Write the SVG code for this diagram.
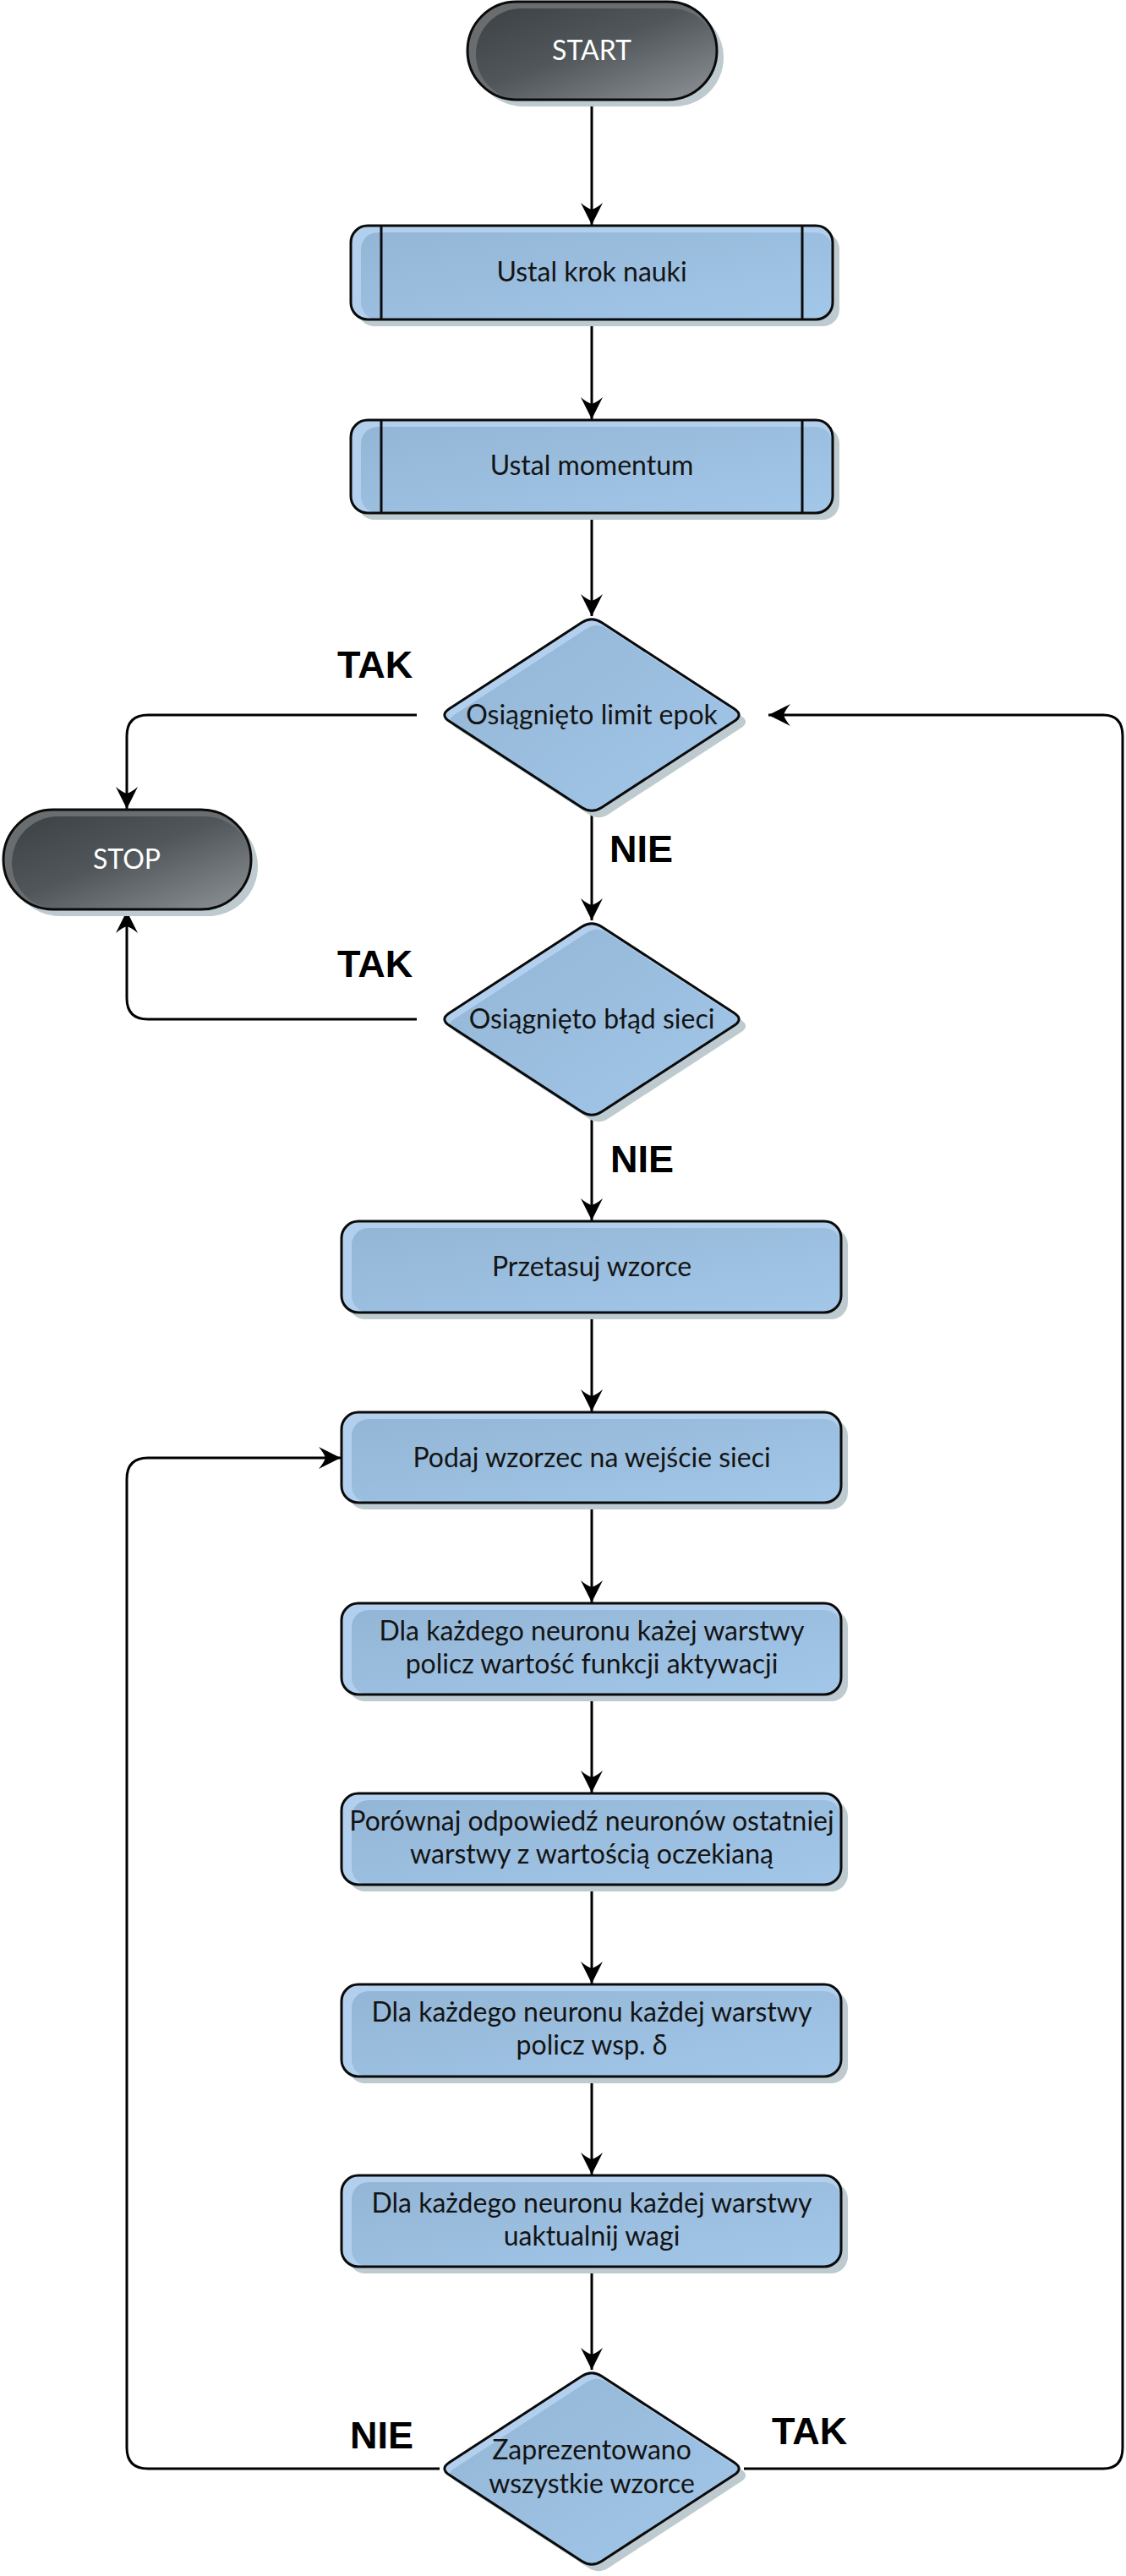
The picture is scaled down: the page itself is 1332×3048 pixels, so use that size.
<svg xmlns="http://www.w3.org/2000/svg" width="1332" height="3048" viewBox="0 0 1332 3048">
<style>
.shadow{fill:#bdcbd0}
.hl{fill:#b2d0ee}
.body{fill:url(#gBlue)}
.dhl{fill:#6a6d6f}
.dbody{fill:url(#gDark)}
.outline{fill:none;stroke:#0a0a0a;stroke-width:3}
.t{font-family:Lato,"Open Sans","Liberation Sans",sans-serif;font-size:32px;fill:#141414;text-anchor:middle}
.tw{font-family:Lato,"Open Sans","Liberation Sans",sans-serif;font-size:32px;fill:#ffffff;text-anchor:middle}
.lbl{font-family:"Liberation Sans",Arial,sans-serif;font-weight:bold;font-size:45px;fill:#000}
.conn{fill:none;stroke:#000;stroke-width:3;marker-end:url(#arr)}
</style>
<defs>
<linearGradient id="gBlue" x1="0" y1="0" x2="1" y2="1">
<stop offset="0" stop-color="#93b6d6"/>
<stop offset="1" stop-color="#a3c7e9"/>
</linearGradient>
<linearGradient id="gDark" x1="0" y1="0" x2="1" y2="1">
<stop offset="0" stop-color="#3c4144"/>
<stop offset="0.45" stop-color="#50565a"/>
<stop offset="1" stop-color="#8d9396"/>
</linearGradient>
<path id="dia" d="M -11.7 -109.4 Q 0 -117 11.7 -109.4 L 168.3 -7.6 Q 180 0 168.3 7.6 L 11.7 109.4 Q 0 117 -11.7 109.4 L -168.3 7.6 Q -180 0 -168.3 -7.6 Z"/>
<clipPath id="dclip"><use href="#dia"/></clipPath>
<marker id="arr" viewBox="-27 -14 28 28" refX="0" refY="0" markerWidth="28" markerHeight="28" markerUnits="userSpaceOnUse" orient="auto">
<path d="M 0 0 L -26 -13 Q -20 -6 -18 0 Q -20 6 -26 13 Z" fill="#000"/>
</marker>
</defs>
<rect width="1332" height="3048" fill="#ffffff"/>

<g id="connectors">
<path class="conn" d="M 700 118 V 266"/>
<path class="conn" d="M 700 378 V 496"/>
<path class="conn" d="M 700 607 V 729"/>
<path class="conn" d="M 493 846 H 175 Q 150 846 150 871 V 957"/>
<path class="conn" d="M 700 963 V 1089"/>
<path class="conn" d="M 493 1206 H 175 Q 150 1206 150 1181 V 1078"/>
<path class="conn" d="M 700 1323 V 1444"/>
<path class="conn" d="M 700 1553 V 1670"/>
<path class="conn" d="M 700 1778 V 1896"/>
<path class="conn" d="M 700 2005 V 2121"/>
<path class="conn" d="M 700 2230 V 2347"/>
<path class="conn" d="M 700 2457 V 2573"/>
<path class="conn" d="M 700 2682 V 2804"/>
<path class="conn" d="M 520 2921 H 175 Q 150 2921 150 2896 V 1750 Q 150 1725 175 1725 H 403"/>
<path class="conn" d="M 880 2921 H 1305 Q 1328 2921 1328 2896 V 871 Q 1328 846 1305 846 H 909"/>
</g>

<g id="n-start">
<rect class="shadow" x="561" y="10" width="295" height="116" rx="58"/>
<rect class="dhl" x="553" y="2" width="295" height="116" rx="58"/>
<rect class="dbody" x="563" y="10" width="285" height="108" rx="54"/>
<rect class="outline" x="553" y="2" width="295" height="116" rx="58"/>
<text class="tw" x="700" y="71">START</text>
</g>

<g id="n-krok">
<rect class="shadow" x="423" y="275" width="570" height="111" rx="20"/>
<rect class="hl" x="415" y="267" width="570" height="111" rx="20"/>
<rect class="body" x="427" y="275" width="558" height="103" rx="20"/>
<rect class="outline" x="415" y="267" width="570" height="111" rx="20"/>
<path class="outline" d="M 451 267 V 378 M 949 267 V 378"/>
<text class="t" x="700" y="333">Ustal krok nauki</text>
</g>

<g id="n-momentum">
<rect class="shadow" x="423" y="505" width="570" height="110" rx="20"/>
<rect class="hl" x="415" y="497" width="570" height="110" rx="20"/>
<rect class="body" x="427" y="505" width="558" height="102" rx="20"/>
<rect class="outline" x="415" y="497" width="570" height="110" rx="20"/>
<path class="outline" d="M 451 497 V 607 M 949 497 V 607"/>
<text class="t" x="700" y="562">Ustal momentum</text>
</g>

<g id="n-limit" transform="translate(700,846)">
<use href="#dia" class="shadow" transform="translate(8,8)"/>
<use href="#dia" class="hl"/>
<g clip-path="url(#dclip)"><use href="#dia" class="body" transform="translate(6,7)"/></g>
<use href="#dia" class="outline"/>
<text class="t" x="0" y="11">Osiągnięto limit epok</text>
</g>

<g id="n-stop">
<rect class="shadow" x="12" y="966" width="293" height="118" rx="59"/>
<rect class="dhl" x="4" y="958" width="293" height="118" rx="59"/>
<rect class="dbody" x="14" y="966" width="283" height="110" rx="55"/>
<rect class="outline" x="4" y="958" width="293" height="118" rx="59"/>
<text class="tw" x="150" y="1028">STOP</text>
</g>

<g id="n-blad" transform="translate(700,1206)">
<use href="#dia" class="shadow" transform="translate(8,8)"/>
<use href="#dia" class="hl"/>
<g clip-path="url(#dclip)"><use href="#dia" class="body" transform="translate(6,7)"/></g>
<use href="#dia" class="outline"/>
<text class="t" x="0" y="11">Osiągnięto błąd sieci</text>
</g>

<g id="n-przetasuj">
<rect class="shadow" x="412" y="1453" width="591" height="108" rx="20"/>
<rect class="hl" x="404" y="1445" width="591" height="108" rx="20"/>
<rect class="body" x="416" y="1453" width="579" height="100" rx="20"/>
<rect class="outline" x="404" y="1445" width="591" height="108" rx="20"/>
<text class="t" x="700" y="1510">Przetasuj wzorce</text>
</g>

<g id="n-podaj">
<rect class="shadow" x="412" y="1679" width="591" height="107" rx="20"/>
<rect class="hl" x="404" y="1671" width="591" height="107" rx="20"/>
<rect class="body" x="416" y="1679" width="579" height="99" rx="20"/>
<rect class="outline" x="404" y="1671" width="591" height="107" rx="20"/>
<text class="t" x="700" y="1736">Podaj wzorzec na wejście sieci</text>
</g>

<g id="n-aktywacja">
<rect class="shadow" x="412" y="1905" width="591" height="108" rx="20"/>
<rect class="hl" x="404" y="1897" width="591" height="108" rx="20"/>
<rect class="body" x="416" y="1905" width="579" height="100" rx="20"/>
<rect class="outline" x="404" y="1897" width="591" height="108" rx="20"/>
<text class="t" x="700" y="1941">Dla każdego neuronu każej warstwy</text>
<text class="t" x="700" y="1980">policz wartość funkcji aktywacji</text>
</g>

<g id="n-porownaj">
<rect class="shadow" x="412" y="2130" width="591" height="108" rx="20"/>
<rect class="hl" x="404" y="2122" width="591" height="108" rx="20"/>
<rect class="body" x="416" y="2130" width="579" height="100" rx="20"/>
<rect class="outline" x="404" y="2122" width="591" height="108" rx="20"/>
<text class="t" x="700" y="2166">Porównaj odpowiedź neuronów ostatniej</text>
<text class="t" x="700" y="2205">warstwy z wartością oczekianą</text>
</g>

<g id="n-delta">
<rect class="shadow" x="412" y="2356" width="591" height="109" rx="20"/>
<rect class="hl" x="404" y="2348" width="591" height="109" rx="20"/>
<rect class="body" x="416" y="2356" width="579" height="101" rx="20"/>
<rect class="outline" x="404" y="2348" width="591" height="109" rx="20"/>
<text class="t" x="700" y="2392">Dla każdego neuronu każdej warstwy</text>
<text class="t" x="700" y="2431">policz wsp. δ</text>
</g>

<g id="n-wagi">
<rect class="shadow" x="412" y="2582" width="591" height="108" rx="20"/>
<rect class="hl" x="404" y="2574" width="591" height="108" rx="20"/>
<rect class="body" x="416" y="2582" width="579" height="100" rx="20"/>
<rect class="outline" x="404" y="2574" width="591" height="108" rx="20"/>
<text class="t" x="700" y="2618">Dla każdego neuronu każdej warstwy</text>
<text class="t" x="700" y="2657">uaktualnij wagi</text>
</g>

<g id="n-wszystkie" transform="translate(700,2921)">
<use href="#dia" class="shadow" transform="translate(8,8)"/>
<use href="#dia" class="hl"/>
<g clip-path="url(#dclip)"><use href="#dia" class="body" transform="translate(6,7)"/></g>
<use href="#dia" class="outline"/>
<text class="t" x="0" y="-11">Zaprezentowano</text>
<text class="t" x="0" y="29">wszystkie wzorce</text>
</g>

<g id="labels">
<text class="lbl" x="399" y="802">TAK</text>
<text class="lbl" x="721" y="1020">NIE</text>
<text class="lbl" x="399" y="1156">TAK</text>
<text class="lbl" x="722" y="1387">NIE</text>
<text class="lbl" x="414" y="2897">NIE</text>
<text class="lbl" x="913" y="2892">TAK</text>
</g>
</svg>
